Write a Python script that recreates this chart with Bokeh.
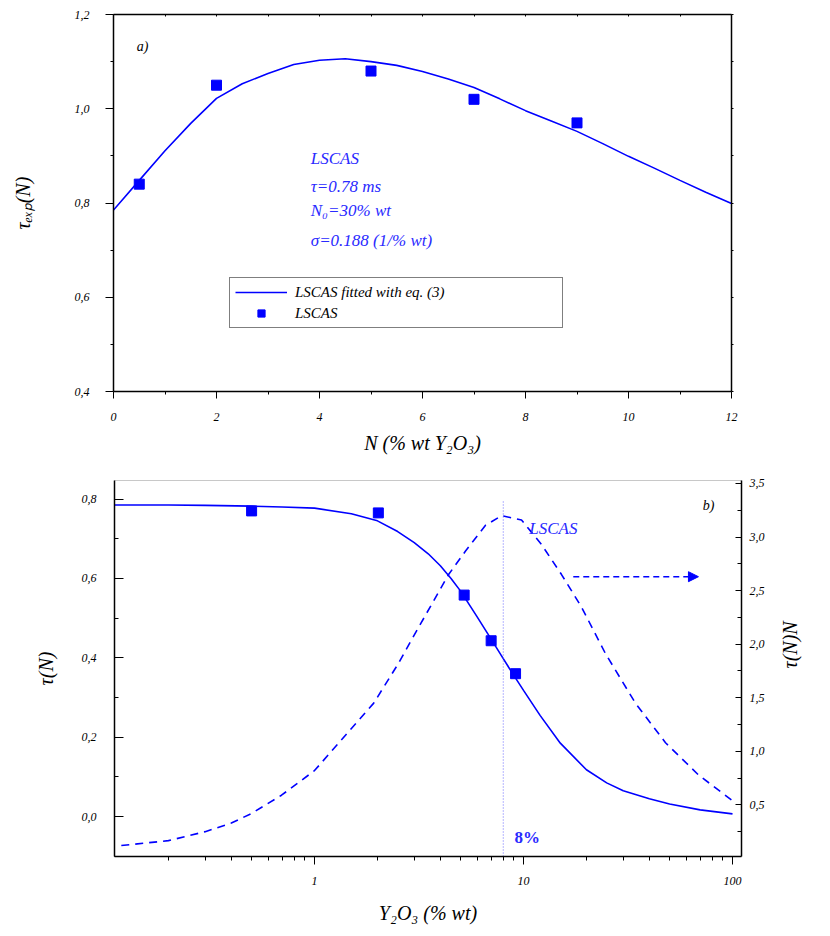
import math
from bokeh.plotting import figure
from bokeh.models import (Range1d, LinearAxis, FixedTicker, LogTicker, CustomJSTickFormatter,
                          Legend, LegendItem, Label, Arrow, NormalHead)
from bokeh.embed import file_html
from bokeh.resources import INLINE

# ---------------- data: panel a) ----------------
a_exp_x = [0.5, 2, 5, 7, 9]
a_exp_y = [0.84, 1.05, 1.08, 1.02, 0.97]
a_fit_x = [0, 0.5, 1, 1.5, 2, 2.5, 3, 3.5, 4, 4.5, 5, 5.5, 6, 6.5, 7, 7.5, 8, 8.5, 9, 9.5, 10, 10.5, 11, 11.5, 12]
a_fit_y = [0.785, 0.848, 0.911, 0.969, 1.022, 1.053, 1.075, 1.094, 1.103, 1.106, 1.100, 1.092, 1.079, 1.063,
           1.045, 1.021, 0.996, 0.974, 0.952, 0.926, 0.899, 0.874, 0.848, 0.823, 0.799]
a_xticks = [0, 2, 4, 6, 8, 10, 12]
a_xminor = [1, 3, 5, 7, 9, 11]
a_yticks = [0.4, 0.6, 0.8, 1.0, 1.2]
a_yminor = [0.5, 0.7, 0.9, 1.1]

# ---------------- data: panel b) ----------------
b_exp_x = [0.5, 2.02, 5.2, 7.0, 9.16]
b_exp_y = [0.77, 0.765, 0.558, 0.443, 0.36]
b_tau_x = [0.11, 0.2, 0.3, 0.5, 0.7, 1.0, 1.5, 2.0, 2.5, 3.0, 3.5, 4.0, 4.5, 5.0, 6.0, 7.0, 8.0, 9.0,
           10, 12, 15, 20, 25, 30, 40, 50, 70, 100]
b_tau_y = [0.785, 0.785, 0.784, 0.782, 0.780, 0.777, 0.763, 0.745, 0.718, 0.690, 0.662, 0.632, 0.600, 0.568,
           0.503, 0.447, 0.398, 0.355, 0.318, 0.255, 0.185, 0.118, 0.085, 0.065, 0.045, 0.032, 0.017, 0.007]
b_ntau_x = [0.119, 0.2, 0.3, 0.4, 0.5, 0.695, 1.0, 1.92, 2.52, 2.91, 3.63, 4.38, 5.28, 6.58, 7.85, 9.78,
            12.2, 15.2, 18.9, 24.7, 34.3, 47.8, 68.7, 98.9]
b_ntau_y = [0.12, 0.166, 0.25, 0.33, 0.42, 0.59, 0.82, 1.45, 1.82, 2.04, 2.37, 2.65, 2.87, 3.11, 3.20, 3.16,
            2.93, 2.65, 2.35, 1.91, 1.45, 1.08, 0.78, 0.545]
b_yticks = [0.0, 0.2, 0.4, 0.6, 0.8]
b_yminor = [-0.1, 0.1, 0.3, 0.5, 0.7]
b_rticks = [0.0, 0.5, 1.0, 1.5, 2.0, 2.5, 3.0, 3.5]
b_rminor = [0.25, 0.75, 1.25, 1.75, 2.25, 2.75, 3.25]
b_threshold = 8

BLUE = "#0000ff"
TXT_BLUE = "#2a2aff"
FONT = "Liberation Serif"
comma_fmt = CustomJSTickFormatter(code="return tick.toFixed(1).replace('.', ',');")
int_fmt = CustomJSTickFormatter(code="return String(Math.round(tick));")
blank_fmt = CustomJSTickFormatter(code="return '';")


def style_axis(ax, size="12px"):
    ax.major_label_text_font = FONT
    ax.major_label_text_font_style = "italic"
    ax.major_label_text_font_size = size
    ax.major_label_text_color = "black"
    ax.axis_label_text_font = FONT
    ax.axis_label_text_font_style = "italic"
    ax.axis_label_text_font_size = "20px"
    ax.axis_label_text_color = "black"
    ax.axis_line_color = "black"
    ax.axis_line_width = 1.5
    ax.major_tick_line_color = "black"
    ax.minor_tick_line_color = "black"


# ================= panel a) =================
p1 = figure(width=812, height=460, x_range=Range1d(0, 12), y_range=Range1d(0.4, 1.2),
            output_backend="svg", toolbar_location=None,
            min_border_left=113, min_border_right=81, min_border_top=14, min_border_bottom=69)
p1.grid.visible = False
p1.outline_line_color = None

xa = p1.xaxis[0]
xa.ticker = FixedTicker(ticks=a_xticks, minor_ticks=a_xminor)
xa.formatter = int_fmt
xa.axis_label = "N (% wt Y₂O₃)"
style_axis(xa)
xa.major_tick_out = 7
xa.major_tick_in = 0
xa.minor_tick_out = 3
xa.minor_tick_in = 0
xa.major_label_standoff = 14
xa.axis_label_standoff = 8

ya = p1.yaxis[0]
ya.ticker = FixedTicker(ticks=a_yticks, minor_ticks=a_yminor)
ya.formatter = comma_fmt
ya.axis_label = "τₑₓₚ(N)"
style_axis(ya)
ya.major_tick_out = 8
ya.major_tick_in = 0
ya.minor_tick_out = 3
ya.minor_tick_in = 0
ya.major_label_standoff = 16
ya.axis_label_standoff = 38

top_ax = LinearAxis(ticker=FixedTicker(ticks=a_xticks + a_xminor, minor_ticks=[]), formatter=blank_fmt)
style_axis(top_ax)
top_ax.major_label_text_font_size = "0px"
top_ax.major_tick_in = 2
top_ax.major_tick_out = 0
p1.add_layout(top_ax, "above")

right_ax = LinearAxis(ticker=FixedTicker(ticks=a_yticks + a_yminor, minor_ticks=[]), formatter=blank_fmt)
style_axis(right_ax)
right_ax.major_label_text_font_size = "0px"
right_ax.major_tick_in = 0
right_ax.major_tick_out = 2
p1.add_layout(right_ax, "right")

fit_r = p1.line(a_fit_x, a_fit_y, line_color=BLUE, line_width=1.6)
exp_r = p1.scatter(a_exp_x, a_exp_y, marker="square", size=10, fill_color=BLUE, line_color=BLUE)

legend = Legend(items=[LegendItem(label="LSCAS fitted with eq. (3)", renderers=[fit_r]),
                       LegendItem(label="LSCAS", renderers=[exp_r])],
                location=(116, 63), orientation="vertical",
                border_line_color="black", border_line_width=1.2,
                label_text_font=FONT, label_text_font_style="italic", label_text_font_size="15px",
                label_text_color="black", glyph_width=52, glyph_height=18, label_width=262,
                label_height=18, spacing=3, padding=5, margin=0, label_standoff=8,
                background_fill_alpha=1.0)
p1.add_layout(legend, "center")

p1.add_layout(Label(x=0.45, y=1.132, text="a)", text_font=FONT, text_font_style="italic",
                    text_font_size="14px", text_color="black", text_baseline="middle"))
anno_lines = [("LSCAS", 0.894), ("τ=0.78 ms", 0.835), ("N₀=30% wt", 0.784), ("σ=0.188 (1/% wt)", 0.720)]
for txt, yy in anno_lines:
    p1.add_layout(Label(x=3.83, y=yy, text=txt, text_font=FONT, text_font_style="italic",
                        text_font_size="17px", text_color=TXT_BLUE, text_baseline="middle"))

# ================= panel b) =================
p2 = figure(width=822, height=466, x_axis_type="log", x_range=Range1d(0.1104, 110.4),
            y_range=Range1d(-0.1004, 0.8466), output_backend="svg", toolbar_location=None,
            min_border_left=114, min_border_right=81, min_border_top=20, min_border_bottom=66)
p2.grid.visible = False
p2.outline_line_color = "#c8c8c8"
p2.extra_y_ranges = {"right": Range1d(0.018, 3.528)}

xb = p2.xaxis[0]
xb.ticker = LogTicker(num_minor_ticks=10)
xb.formatter = CustomJSTickFormatter(code="return String(Math.round(tick));")
xb.axis_label = "Y₂O₃ (% wt)"
style_axis(xb)
xb.major_tick_out = 8
xb.major_tick_in = 0
xb.minor_tick_out = 4
xb.minor_tick_in = 0
xb.major_label_standoff = 12
xb.axis_label_standoff = 14

yb = p2.yaxis[0]
yb.ticker = FixedTicker(ticks=b_yticks, minor_ticks=b_yminor)
yb.formatter = comma_fmt
yb.axis_label = "τ(N)"
style_axis(yb)
yb.major_tick_in = 9
yb.major_tick_out = 0
yb.minor_tick_in = 4
yb.minor_tick_out = 0
yb.major_label_standoff = 18
yb.axis_label_standoff = 22

rb = LinearAxis(y_range_name="right", ticker=FixedTicker(ticks=b_rticks, minor_ticks=b_rminor),
                formatter=comma_fmt, axis_label="τ(N)N")
style_axis(rb)
rb.axis_label_orientation = math.pi / 2
rb.major_tick_in = 6
rb.major_tick_out = 0
rb.minor_tick_in = 4
rb.minor_tick_out = 0
rb.major_label_standoff = 8
rb.axis_label_standoff = 22
p2.add_layout(rb, "right")

p2.line(b_tau_x, b_tau_y, line_color=BLUE, line_width=1.6)
p2.scatter(b_exp_x, b_exp_y, marker="square", size=10, fill_color=BLUE, line_color=BLUE)
p2.line(b_ntau_x, b_ntau_y, line_color=BLUE, line_width=1.6, line_dash="8 6", y_range_name="right")
p2.segment(x0=[b_threshold], y0=[-0.1004], x1=[b_threshold], y1=[0.794],
           line_color="#6a6aff", line_width=1, line_dash="1 2")

p2.add_layout(Arrow(end=NormalHead(size=10, fill_color=BLUE, line_color=BLUE),
                    x_start=17.3, y_start=2.63, x_end=68.7, y_end=2.63, y_range_name="right",
                    line_color=BLUE, line_width=1.4, line_dash="6 4"))
p2.add_layout(Label(x=13.9, y=3.08, y_range_name="right", text="LSCAS", text_font=FONT,
                    text_font_style="italic", text_font_size="17px", text_color=TXT_BLUE,
                    text_align="center", text_baseline="middle"))
p2.add_layout(Label(x=72, y=3.29, y_range_name="right", text="b)", text_font=FONT,
                    text_font_style="italic", text_font_size="14px", text_color="black",
                    text_baseline="middle"))
p2.add_layout(Label(x=9.06, y=-0.053, text="8%", text_font=FONT, text_font_style="bold",
                    text_font_size="17px", text_color=TXT_BLUE, text_baseline="middle"))

# two independent roots, so the two plot frames are not forced into alignment
open("out.html", "w").write(file_html([p1, p2], INLINE))
